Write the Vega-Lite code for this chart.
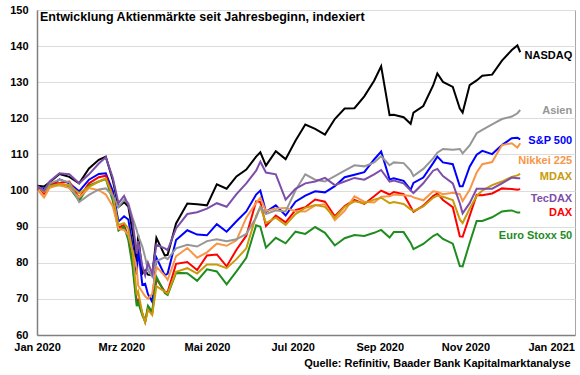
{
  "$schema": "https://vega.github.io/schema/vega-lite/v6.json",
  "autosize": {"type": "none"},
  "padding": {"left": 37, "top": 10, "right": 5, "bottom": 40},
  "width": 538,
  "height": 325,
  "background": "white",
  "title": {"text": "Entwicklung Aktienmärkte seit Jahresbeginn, indexiert", "anchor": "start", "frame": "group", "orient": "top", "offset": -19, "dx": 3, "fontSize": 12.5, "font": "Liberation Sans", "fontWeight": "bold", "color": "#000000"},
  "config": {
    "view": {"stroke": "#a6a6a6", "strokeWidth": 1},
    "font": "Liberation Sans"
  },
  "datasets": {
    "kurse": [
      {"d": "2020-01-01", "nasdaq": 100, "sp500": 100, "dax": 100, "esx": 100, "nikkei": 100, "mdax": 100, "tecdax": 100, "asien": 100},
      {"d": "2020-01-02", "nasdaq": 101.3, "sp500": 100.8, "dax": 101, "esx": 100.8, "nikkei": 100, "mdax": 100.8, "tecdax": 101, "asien": 101},
      {"d": "2020-01-06", "nasdaq": 101.1, "sp500": 100.5, "dax": 99.1, "esx": 99.8, "nikkei": 98.1, "mdax": 99.6, "tecdax": 100, "asien": 100},
      {"d": "2020-01-10", "nasdaq": 102.3, "sp500": 101.1, "dax": 101.8, "esx": 101.4, "nikkei": 100.8, "mdax": 101.2, "tecdax": 102.5, "asien": 102},
      {"d": "2020-01-17", "nasdaq": 104.6, "sp500": 103.1, "dax": 102.1, "esx": 101.5, "nikkei": 101.6, "mdax": 101.8, "tecdax": 104.8, "asien": 103},
      {"d": "2020-01-24", "nasdaq": 103.8, "sp500": 102, "dax": 102.5, "esx": 100.9, "nikkei": 100.7, "mdax": 101.5, "tecdax": 104.5, "asien": 102.3},
      {"d": "2020-01-31", "nasdaq": 102, "sp500": 99.8, "dax": 98, "esx": 97.2, "nikkei": 98.1, "mdax": 99.3, "tecdax": 102, "asien": 96.8},
      {"d": "2020-02-07", "nasdaq": 106.1, "sp500": 103, "dax": 102, "esx": 101.4, "nikkei": 100.7, "mdax": 101, "tecdax": 104.5, "asien": 98.8},
      {"d": "2020-02-14", "nasdaq": 108.5, "sp500": 104.6, "dax": 103.7, "esx": 102.5, "nikkei": 100.1, "mdax": 102.5, "tecdax": 107.5, "asien": 100.3},
      {"d": "2020-02-19", "nasdaq": 109.4, "sp500": 104.8, "dax": 104.1, "esx": 103.2, "nikkei": 98.9, "mdax": 103.3, "tecdax": 109.2, "asien": 100.6},
      {"d": "2020-02-24", "nasdaq": 102.8, "sp500": 99.9, "dax": 98.4, "esx": 97.1, "nikkei": 95.6, "mdax": 98.5, "tecdax": 103.5, "asien": 98.5},
      {"d": "2020-02-28", "nasdaq": 95.5, "sp500": 91.4, "dax": 89.7, "esx": 88.9, "nikkei": 89.4, "mdax": 90.5, "tecdax": 96.5, "asien": 95.5},
      {"d": "2020-03-03", "nasdaq": 96.8, "sp500": 92.9, "dax": 90.5, "esx": 90, "nikkei": 89.1, "mdax": 91, "tecdax": 98.5, "asien": 97.4},
      {"d": "2020-03-06", "nasdaq": 95.6, "sp500": 92, "dax": 87.1, "esx": 86.3, "nikkei": 87.7, "mdax": 89.5, "tecdax": 96, "asien": 96.5},
      {"d": "2020-03-09", "nasdaq": 88.6, "sp500": 85, "dax": 80.2, "esx": 79, "nikkei": 83.3, "mdax": 83, "tecdax": 91.5, "asien": 92.5},
      {"d": "2020-03-12", "nasdaq": 80.3, "sp500": 76.8, "dax": 69.1, "esx": 68, "nikkei": 78.5, "mdax": 71, "tecdax": 82.5, "asien": 89},
      {"d": "2020-03-13", "nasdaq": 87.8, "sp500": 83.9, "dax": 69.7, "esx": 69, "nikkei": 73.7, "mdax": 72, "tecdax": 86, "asien": 87.5},
      {"d": "2020-03-16", "nasdaq": 77, "sp500": 73.9, "dax": 66, "esx": 65.4, "nikkei": 71.9, "mdax": 66, "tecdax": 79, "asien": 84.5},
      {"d": "2020-03-18", "nasdaq": 77.9, "sp500": 74.2, "dax": 63.7, "esx": 63.7, "nikkei": 70.7, "mdax": 63.5, "tecdax": 76.5, "asien": 81.5},
      {"d": "2020-03-20", "nasdaq": 76.7, "sp500": 71.3, "dax": 67.4, "esx": 68.1, "nikkei": 70, "mdax": 67, "tecdax": 80, "asien": 78},
      {"d": "2020-03-23", "nasdaq": 76.5, "sp500": 69.2, "dax": 66, "esx": 66.4, "nikkei": 71.4, "mdax": 65.5, "tecdax": 77, "asien": 76.2},
      {"d": "2020-03-26", "nasdaq": 86.9, "sp500": 81.4, "dax": 75.5, "esx": 76.1, "nikkei": 78.9, "mdax": 73.5, "tecdax": 85, "asien": 80.5},
      {"d": "2020-04-01", "nasdaq": 82, "sp500": 76.5, "dax": 72, "esx": 71.6, "nikkei": 76.4, "mdax": 72, "tecdax": 84, "asien": 81.5},
      {"d": "2020-04-03", "nasdaq": 82.2, "sp500": 77, "dax": 71.9, "esx": 71.1, "nikkei": 75.3, "mdax": 71.5, "tecdax": 83.5, "asien": 81},
      {"d": "2020-04-09", "nasdaq": 90.9, "sp500": 86.3, "dax": 79.7, "esx": 77.2, "nikkei": 81.8, "mdax": 77.5, "tecdax": 89.5, "asien": 84},
      {"d": "2020-04-17", "nasdaq": 96.4, "sp500": 89, "dax": 80.2, "esx": 77.1, "nikkei": 84.1, "mdax": 78.5, "tecdax": 93.5, "asien": 85},
      {"d": "2020-04-24", "nasdaq": 96.2, "sp500": 87.8, "dax": 78, "esx": 75, "nikkei": 81.4, "mdax": 77, "tecdax": 94, "asien": 84.5},
      {"d": "2020-05-01", "nasdaq": 95.9, "sp500": 87.6, "dax": 82, "esx": 78.2, "nikkei": 82.9, "mdax": 79.5, "tecdax": 95, "asien": 86},
      {"d": "2020-05-08", "nasdaq": 101.7, "sp500": 90.7, "dax": 82.3, "esx": 77.6, "nikkei": 85.3, "mdax": 79.5, "tecdax": 96.5, "asien": 86.5},
      {"d": "2020-05-15", "nasdaq": 100.5, "sp500": 88.6, "dax": 79, "esx": 74, "nikkei": 84.7, "mdax": 78.5, "tecdax": 95.5, "asien": 86},
      {"d": "2020-05-22", "nasdaq": 103.9, "sp500": 91.5, "dax": 83.6, "esx": 77.6, "nikkei": 86.2, "mdax": 81, "tecdax": 99, "asien": 86.5},
      {"d": "2020-05-29", "nasdaq": 105.8, "sp500": 94.2, "dax": 87.5, "esx": 81.4, "nikkei": 92.5, "mdax": 84, "tecdax": 102, "asien": 88},
      {"d": "2020-06-05", "nasdaq": 109.4, "sp500": 98.9, "dax": 97, "esx": 90.4, "nikkei": 96.6, "mdax": 93, "tecdax": 105.5, "asien": 92.5},
      {"d": "2020-06-08", "nasdaq": 110.6, "sp500": 100, "dax": 96.8, "esx": 90, "nikkei": 98, "mdax": 95.5, "tecdax": 108, "asien": 95.5},
      {"d": "2020-06-12", "nasdaq": 106.9, "sp500": 94.1, "dax": 90.2, "esx": 84.2, "nikkei": 94.3, "mdax": 91, "tecdax": 105, "asien": 93.5},
      {"d": "2020-06-19", "nasdaq": 110.9, "sp500": 95.9, "dax": 93.1, "esx": 86.9, "nikkei": 95, "mdax": 92.5, "tecdax": 104.5, "asien": 94.5},
      {"d": "2020-06-26", "nasdaq": 108.7, "sp500": 93.1, "dax": 91.2, "esx": 85.4, "nikkei": 95.2, "mdax": 90.5, "tecdax": 97.5, "asien": 94.2},
      {"d": "2020-07-03", "nasdaq": 113.8, "sp500": 96.9, "dax": 94.6, "esx": 88.6, "nikkei": 94.3, "mdax": 93.5, "tecdax": 100.5, "asien": 100},
      {"d": "2020-07-10", "nasdaq": 118.3, "sp500": 98.6, "dax": 95.4, "esx": 88, "nikkei": 94.2, "mdax": 95.2, "tecdax": 102, "asien": 104.5},
      {"d": "2020-07-17", "nasdaq": 117.1, "sp500": 99.8, "dax": 97.5, "esx": 89.9, "nikkei": 95.9, "mdax": 96, "tecdax": 102.5, "asien": 103},
      {"d": "2020-07-24", "nasdaq": 115.5, "sp500": 99.5, "dax": 96.9, "esx": 88.3, "nikkei": 96.2, "mdax": 95.5, "tecdax": 103.5, "asien": 102.5},
      {"d": "2020-07-31", "nasdaq": 119.8, "sp500": 101.2, "dax": 92.9, "esx": 84.8, "nikkei": 91.8, "mdax": 92.5, "tecdax": 101.5, "asien": 104},
      {"d": "2020-08-07", "nasdaq": 122.7, "sp500": 103.7, "dax": 95.7, "esx": 86.8, "nikkei": 94.4, "mdax": 95.5, "tecdax": 102.5, "asien": 105.5},
      {"d": "2020-08-14", "nasdaq": 122.8, "sp500": 104.4, "dax": 97.4, "esx": 87.7, "nikkei": 98.4, "mdax": 97, "tecdax": 103.5, "asien": 107},
      {"d": "2020-08-21", "nasdaq": 126.1, "sp500": 105.1, "dax": 96.3, "esx": 87.4, "nikkei": 96.9, "mdax": 96.5, "tecdax": 103, "asien": 106.7},
      {"d": "2020-08-28", "nasdaq": 130.4, "sp500": 108.6, "dax": 98.4, "esx": 88.3, "nikkei": 96.7, "mdax": 97.5, "tecdax": 104.5, "asien": 107.8},
      {"d": "2020-09-02", "nasdaq": 134.4, "sp500": 110.8, "dax": 100, "esx": 89.1, "nikkei": 98.3, "mdax": 98, "tecdax": 105.7, "asien": 109.5},
      {"d": "2020-09-08", "nasdaq": 120.9, "sp500": 103.1, "dax": 98.9, "esx": 87, "nikkei": 98.4, "mdax": 96.5, "tecdax": 102.5, "asien": 107},
      {"d": "2020-09-11", "nasdaq": 121, "sp500": 103.4, "dax": 99.6, "esx": 88.5, "nikkei": 98.9, "mdax": 96.8, "tecdax": 102.8, "asien": 107.8},
      {"d": "2020-09-18", "nasdaq": 120.3, "sp500": 102.7, "dax": 99, "esx": 88.5, "nikkei": 98.7, "mdax": 96.3, "tecdax": 102, "asien": 107.6},
      {"d": "2020-09-23", "nasdaq": 118.5, "sp500": 100.2, "dax": 95.5, "esx": 85.5, "nikkei": 98.5, "mdax": 94.8, "tecdax": 100, "asien": 105.5},
      {"d": "2020-09-25", "nasdaq": 121.6, "sp500": 102.1, "dax": 94.1, "esx": 83.8, "nikkei": 98.1, "mdax": 94.3, "tecdax": 99.3, "asien": 104},
      {"d": "2020-10-02", "nasdaq": 123.4, "sp500": 103.6, "dax": 95.8, "esx": 85.2, "nikkei": 97.3, "mdax": 95.6, "tecdax": 102, "asien": 106},
      {"d": "2020-10-09", "nasdaq": 129.1, "sp500": 107.6, "dax": 98.5, "esx": 87.4, "nikkei": 99.8, "mdax": 98, "tecdax": 105.5, "asien": 108.9},
      {"d": "2020-10-12", "nasdaq": 132.4, "sp500": 109.4, "dax": 99.2, "esx": 88, "nikkei": 99.6, "mdax": 98.6, "tecdax": 106, "asien": 110.5},
      {"d": "2020-10-16", "nasdaq": 130.1, "sp500": 107.8, "dax": 97.4, "esx": 86.6, "nikkei": 99, "mdax": 98.3, "tecdax": 104, "asien": 111.5},
      {"d": "2020-10-23", "nasdaq": 128.7, "sp500": 107.3, "dax": 95.4, "esx": 85.3, "nikkei": 99.4, "mdax": 97.4, "tecdax": 102, "asien": 111.3},
      {"d": "2020-10-28", "nasdaq": 122.7, "sp500": 101.2, "dax": 87.3, "esx": 79.1, "nikkei": 99, "mdax": 92, "tecdax": 96.5, "asien": 111.5},
      {"d": "2020-10-30", "nasdaq": 121.6, "sp500": 101.2, "dax": 87.2, "esx": 79, "nikkei": 97.1, "mdax": 91, "tecdax": 93.7, "asien": 110.3},
      {"d": "2020-11-04", "nasdaq": 129.2, "sp500": 106.6, "dax": 93, "esx": 85.5, "nikkei": 100.2, "mdax": 95, "tecdax": 96.5, "asien": 112.5},
      {"d": "2020-11-09", "nasdaq": 130.5, "sp500": 109.9, "dax": 98.8, "esx": 91.6, "nikkei": 105, "mdax": 98.5, "tecdax": 100.5, "asien": 115.9},
      {"d": "2020-11-13", "nasdaq": 131.8, "sp500": 111, "dax": 98.7, "esx": 91.6, "nikkei": 107.3, "mdax": 100, "tecdax": 100.5, "asien": 116.8},
      {"d": "2020-11-20", "nasdaq": 132.1, "sp500": 110.1, "dax": 99.2, "esx": 92.6, "nikkei": 107.9, "mdax": 101.5, "tecdax": 100.5, "asien": 118.3},
      {"d": "2020-11-27", "nasdaq": 136, "sp500": 112.6, "dax": 100.6, "esx": 94.2, "nikkei": 112.6, "mdax": 102.5, "tecdax": 102, "asien": 119.8},
      {"d": "2020-12-04", "nasdaq": 138.9, "sp500": 114.5, "dax": 100.4, "esx": 94.5, "nikkei": 113.1, "mdax": 103.8, "tecdax": 103.6, "asien": 120.5},
      {"d": "2020-12-08", "nasdaq": 140.2, "sp500": 114.6, "dax": 100.2, "esx": 93.9, "nikkei": 111.9, "mdax": 104.2, "tecdax": 103.4, "asien": 121.4},
      {"d": "2020-12-10", "nasdaq": 138.3, "sp500": 114.2, "dax": 100.4, "esx": 93.9, "nikkei": 113.1, "mdax": 104.6, "tecdax": 103.4, "asien": 122.3}
    ],
    "labels": [
      {"k": "nasdaq", "t": "NASDAQ", "d": "2021-01-16", "v": 137.3},
      {"k": "asien", "t": "Asien", "d": "2021-01-16", "v": 122},
      {"k": "sp500", "t": "S&P 500", "d": "2021-01-16", "v": 113.7},
      {"k": "nikkei", "t": "Nikkei 225", "d": "2021-01-16", "v": 108.2},
      {"k": "mdax", "t": "MDAX", "d": "2021-01-16", "v": 103.8},
      {"k": "tecdax", "t": "TecDAX", "d": "2021-01-16", "v": 97.8},
      {"k": "dax", "t": "DAX", "d": "2021-01-16", "v": 93.7},
      {"k": "esx", "t": "Euro Stoxx 50", "d": "2021-01-16", "v": 87.4}
    ]
  },
  "encoding": {
    "x": {
      "field": "d", "type": "temporal",
      "scale": {"type": "utc", "domain": [{"year": 2020, "month": 1, "date": 1, "utc": true}, {"year": 2021, "month": 1, "date": 18, "utc": true}]},
      "axis": {
        "values": [
          {"year": 2020, "month": 1, "date": 1, "utc": true},
          {"year": 2020, "month": 3, "date": 1, "utc": true},
          {"year": 2020, "month": 5, "date": 1, "utc": true},
          {"year": 2020, "month": 7, "date": 1, "utc": true},
          {"year": 2020, "month": 9, "date": 1, "utc": true},
          {"year": 2020, "month": 11, "date": 1, "utc": true},
          {"year": 2021, "month": 1, "date": 1, "utc": true}
        ],
        "labelExpr": "['Jan','Feb','Mrz','Apr','Mai','Jun','Jul','Aug','Sep','Okt','Nov','Dez'][utcmonth(datum.value)] + ' ' + utcyear(datum.value)",
        "labelFont": "Liberation Sans", "labelFontWeight": "bold", "labelFontSize": 11, "labelColor": "#000000",
        "labelFlush": false, "labelOverlap": false, "labelPadding": 6,
        "ticks": false, "tickSize": 0, "grid": false,
        "domainColor": "#808080", "domainWidth": 1.5,
        "title": "Quelle: Refinitiv, Baader Bank Kapitalmarktanalyse",
        "titleFont": "Liberation Sans", "titleFontWeight": "bold", "titleFontSize": 11, "titleColor": "#000000",
        "titleAlign": "right", "titleAnchor": "end", "titleX": 533, "titleY": 28, "titleBaseline": "middle"
      }
    },
    "y": {
      "field": "v", "type": "quantitative",
      "scale": {"domain": [60, 150], "nice": false, "zero": false},
      "axis": {
        "values": [60, 70, 80, 90, 100, 110, 120, 130, 140, 150],
        "labelFont": "Liberation Sans", "labelFontWeight": "bold", "labelFontSize": 11, "labelColor": "#000000",
        "labelOverlap": false, "labelFlush": false,
        "labelPadding": 9, "ticks": false, "tickSize": 0,
        "gridColor": "#dcdcdc", "gridWidth": 1,
        "domainColor": "#808080", "domainWidth": 1.5, "title": null
      }
    },
    "color": {
      "field": "k", "type": "nominal",
      "scale": {"domain": ["nasdaq", "sp500", "dax", "esx", "nikkei", "mdax", "asien", "tecdax"], "range": ["#000000", "#0000ff", "#ff0000", "#1e8c1e", "#f79646", "#c89b0a", "#969696", "#7d4daa"]},
      "legend": null
    }
  },
  "layer": [
    {
      "data": {"name": "kurse"},
      "transform": [{"fold": ["nasdaq", "sp500", "dax", "esx", "nikkei", "mdax", "asien", "tecdax"], "as": ["k", "v"]}],
      "mark": {"type": "line", "strokeWidth": 2, "clip": true}
    },
    {
      "data": {"name": "labels"},
      "mark": {"type": "text", "align": "right", "baseline": "middle", "font": "Liberation Sans", "fontWeight": "bold", "fontSize": 11},
      "encoding": {
        "text": {"field": "t"}
      }
    }
  ]
}
